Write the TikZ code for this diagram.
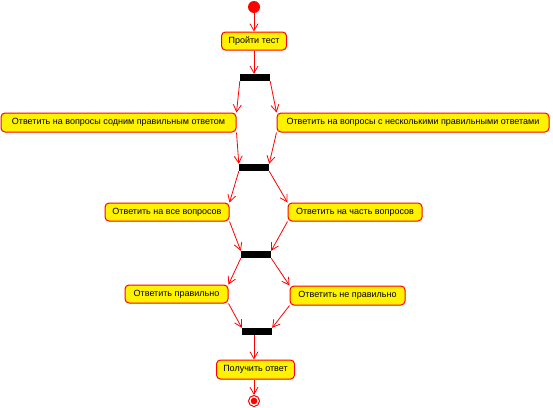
\documentclass[tikz,border=0pt]{standalone}
\usepackage{fontspec}
\setmainfont{Liberation Sans}
\usetikzlibrary{arrows.meta}
\begin{document}
\begin{tikzpicture}[x=1pt,y=-1pt,
 act/.style={draw=red, fill=yellow, rounded corners=4pt, line width=1pt, minimum height=19pt, inner sep=0pt, font=\fontsize{9}{10}\selectfont, text=black},
 bar/.style={fill=black, draw=none, minimum width=30pt, minimum height=7pt, inner sep=0pt},
 flow/.style={draw=red, line width=0.8pt, -{Straight Barb[length=7pt,width=8pt]}},
 startnode/.style={circle, fill=red, minimum size=12pt, inner sep=0pt},
 endnode/.style={circle, draw=red, line width=1pt, fill=white, minimum size=11pt, inner sep=0pt,
   path picture={\fill[red] (path picture bounding box.center) circle (3.3pt);}},
]
\useasboundingbox (0,0) rectangle (553,407);
\node[startnode] (start) at (254,7) {};
\node[act, minimum width=65pt, minimum height=18pt] (b0) at (254,41) {Пройти тест};
\node[bar] (f1) at (255,77.5) {};
\node[act, minimum width=235pt] (b1) at (118.5,122.5) {Ответить на вопросы содним правильным ответом};
\node[act, minimum width=272pt] (b2) at (413,122.5) {Ответить на вопросы с несколькими правильными ответами};
\node[bar] (f2) at (254,167.5) {};
\node[act, minimum width=124pt, minimum height=18pt] (b3) at (167,212) {Ответить на все вопросов};
\node[act, minimum width=134pt, minimum height=18pt] (b4) at (355,212) {Ответить на часть вопросов};
\node[bar] (f3) at (256,254.5) {};
\node[act, minimum width=103pt, minimum height=18pt] (b5) at (176.5,294) {Ответить правильно};
\node[act, minimum width=115pt] (b6) at (347.5,295.5) {Ответить не правильно};
\node[bar] (f4) at (257,331.5) {};
\node[act, minimum width=78pt] (b7) at (255.5,369.5) {Получить ответ};
\node[endnode] (end) at (254,401) {};

\draw[flow] (start.south) -- (start.south |- b0.north);
\draw[flow] (b0.south) -- (b0.south |- f1.north);
\draw[flow] (f1.south west) -- (b1.north east);
\draw[flow] (f1.south east) -- (b2.north west);
\draw[flow] (b1.south east) -- (f2.north west);
\draw[flow] (b2.south west) -- (f2.north east);
\draw[flow] (f2.south west) -- (b3.north east);
\draw[flow] (f2.south east) -- (b4.north west);
\draw[flow] (b3.south east) -- (f3.north west);
\draw[flow] (b4.south west) -- (f3.north east);
\draw[flow] (f3.south west) -- (b5.north east);
\draw[flow] (f3.south east) -- (b6.north west);
\draw[flow] (b5.south east) -- (f4.north west);
\draw[flow] (b6.south west) -- (f4.north east);
\draw[flow] (end.north |- f4.south) -- (end.north |- b7.north);
\draw[flow] (b7.south -| end.north) -- (end.north);
\end{tikzpicture}
\end{document}
